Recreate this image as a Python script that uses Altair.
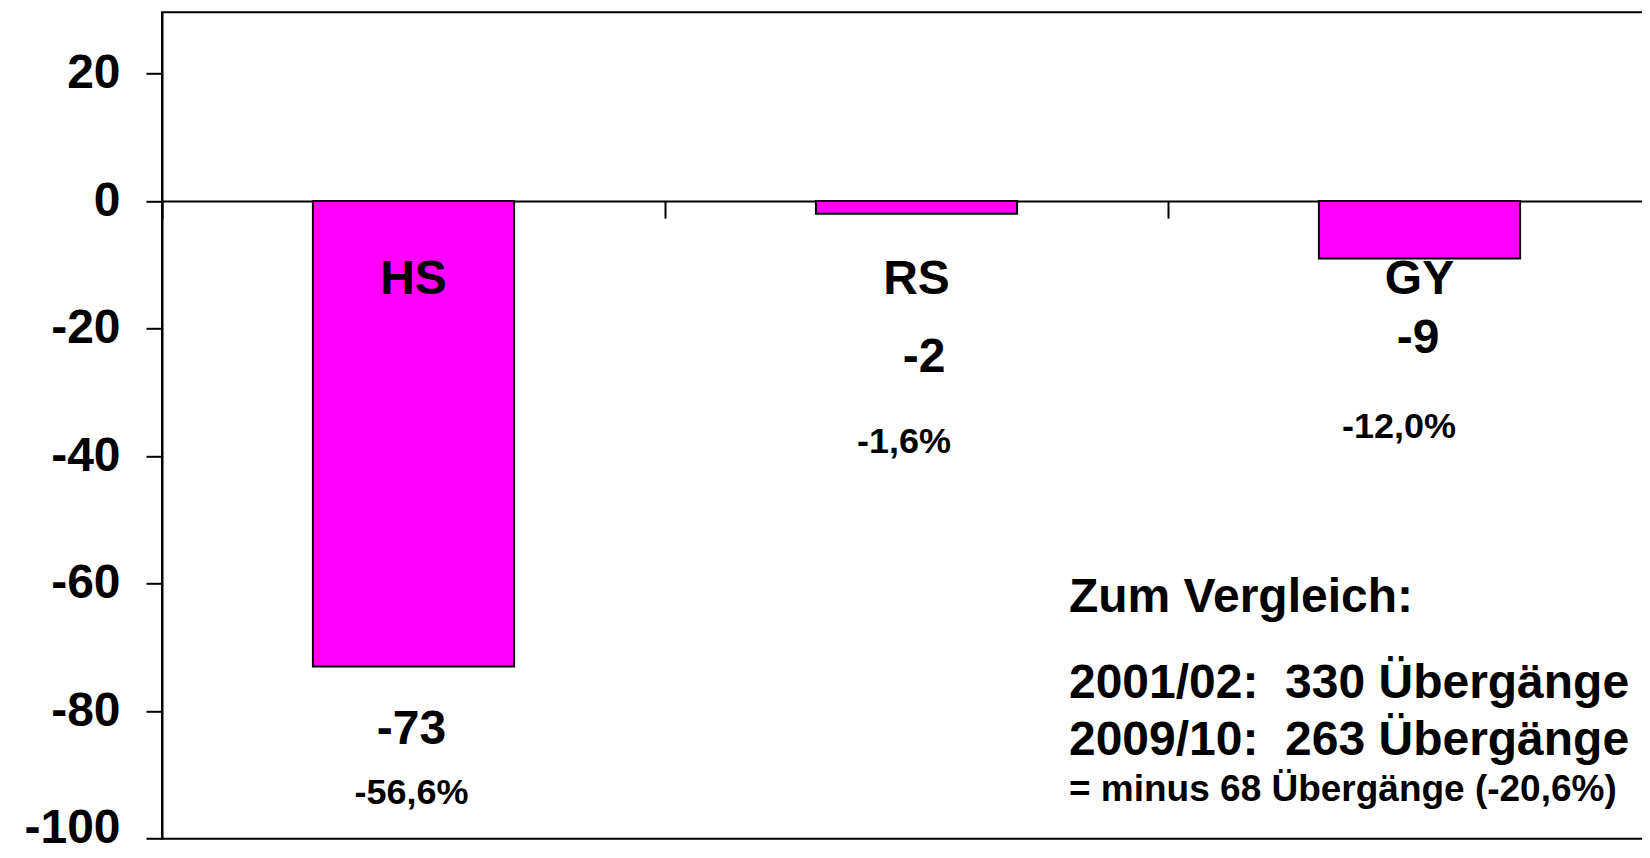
import altair as alt
import pandas as pd

# ---- data ----
categories = ["HS", "RS", "GY"]
values = [-73, -2, -9]
value_labels = ["-73", "-2", "-9"]
pct_labels = ["-56,6%", "-1,6%", "-12,0%"]
y_ticks = [20, 0, -20, -40, -60, -80, -100]

# label anchor positions (data units on the y axis, px offset from band centre)
cat_label_y = [-14.5, -14.5, -14.5]
value_label_y = [-85.1, -26.8, -23.8]
value_label_dx = [-2, 7.5, -1.5]
pct_label_y = [-94.5, -39.5, -37.1]
pct_label_dx = [-2, -12.5, -20.5]

note_lines = [
    "Zum Vergleich:",
    "2001/02:\u00a0 330 Übergänge",
    "2009/10:\u00a0 263 Übergänge",
    "= minus 68 Übergänge (-20,6%)",
]
note_y = [-64.5, -77.9, -86.8, -94.1]
note_size = [48, 48, 48, 37]

FONT = "Liberation Sans"

bars_df = pd.DataFrame({"cat": categories, "v": values})
note_df = pd.DataFrame({"v": note_y, "t": note_lines, "s": note_size})

xscale = alt.Scale(domain=categories, range=[0, 1509], paddingInner=0, paddingOuter=0)
yscale = alt.Scale(domain=[-100, 29.6], nice=False, zero=False)

xaxis = alt.Axis(
    orient="bottom", offset=-637.6, labels=False, title=None,
    ticks=True, tickBand="extent", tickSize=17, tickWidth=2, tickColor="black",
    domainColor="black", domainWidth=2, grid=False,
)
yaxis = alt.Axis(
    values=y_ticks, title=None, grid=False,
    tickSize=16, tickWidth=2, tickColor="black",
    domainColor="black", domainWidth=2,
    labelFont=FONT, labelFontSize=48, labelFontWeight="bold", labelColor="black",
    labelPadding=26, labelFlush=False, labelOverlap=False,
    labelExpr="'' + datum.value",
    labelOffset={"condition": {"test": "datum.value == -100", "value": -10}, "value": 0},
)


def xenc():
    return alt.X("cat:N", scale=xscale, axis=xaxis)


def yenc():
    return alt.Y("v:Q", scale=yscale, axis=yaxis)


bars = alt.Chart(bars_df).mark_bar(
    color="#FF00FF", stroke="black", strokeWidth=2, width=alt.RelativeBandSize(0.4)
).encode(x=xenc(), y=yenc())

layers = [bars]


def text_layer(cat, v, t, dx, size):
    df = pd.DataFrame({"cat": [cat], "v": [v], "t": [t]})
    return alt.Chart(df).mark_text(
        font=FONT, fontSize=size, fontWeight="bold", color="black",
        baseline="alphabetic", align="center", dx=dx,
    ).encode(x=xenc(), y=yenc(), text="t:N")


for i, c in enumerate(categories):
    layers.append(text_layer(c, cat_label_y[i], c, 0, 48))
    layers.append(text_layer(c, value_label_y[i], value_labels[i], value_label_dx[i], 48))
    layers.append(text_layer(c, pct_label_y[i], pct_labels[i], pct_label_dx[i], 36))

note_text = alt.Chart(note_df).mark_text(
    font=FONT, fontWeight="bold", color="black", baseline="alphabetic", align="left"
).encode(
    x=alt.value(907),
    y=yenc(),
    text="t:N",
    size=alt.Size("s:Q", scale=None, legend=None),
)
layers.append(note_text)

chart = alt.layer(*layers).properties(
    width=1500,
    height=826.4,
    autosize=alt.AutoSizeParams(type="none"),
    padding={"left": 154, "top": 4.3, "right": -20, "bottom": 11.0},
).configure_view(
    stroke="black", strokeWidth=2
)

chart.save("out.html", embed_options={"renderer": "svg", "actions": False})
